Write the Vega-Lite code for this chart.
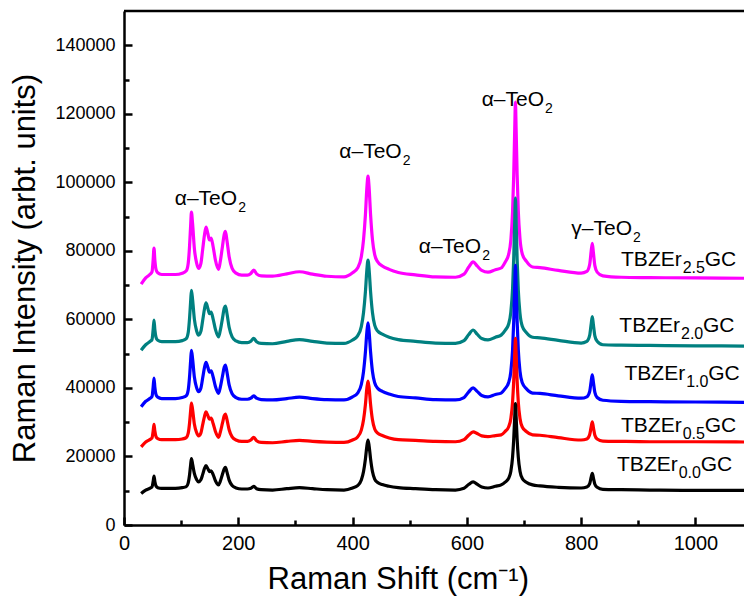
{
  "$schema": "https://vega.github.io/schema/vega-lite/v6.json",
  "width": 620,
  "height": 514,
  "autosize": {"type": "none"},
  "padding": {"left": 124, "top": 11, "right": 0, "bottom": 74},
  "background": "white",
  "config": {"view": {"stroke": null}, "font": "Liberation Sans"},
  "resolve": {"axis": {"x": "independent", "y": "independent"}},
  "datasets": {
    "spectra": [
      {"s":"2.5","x":30,"y":70300},{"s":"2.5","x":38,"y":72100},{"s":"2.5","x":45,"y":73100},{"s":"2.5","x":49,"y":73900},{"s":"2.5","x":51,"y":77300},{"s":"2.5","x":52.5,"y":80800},{"s":"2.5","x":54,"y":77300},{"s":"2.5","x":56,"y":74600},{"s":"2.5","x":59,"y":73600},{"s":"2.5","x":66,"y":73100},
      {"s":"2.5","x":90,"y":73100},{"s":"2.5","x":102,"y":73500},{"s":"2.5","x":109,"y":74200},{"s":"2.5","x":112.4,"y":76400},{"s":"2.5","x":114.7,"y":81300},{"s":"2.5","x":116.7,"y":87700},{"s":"2.5","x":118,"y":91300},{"s":"2.5","x":120,"y":88000},{"s":"2.5","x":123.2,"y":80600},{"s":"2.5","x":127,"y":76500},
      {"s":"2.5","x":130.5,"y":74900},{"s":"2.5","x":134.5,"y":76300},{"s":"2.5","x":137.6,"y":80300},{"s":"2.5","x":140.9,"y":84700},{"s":"2.5","x":143.5,"y":86900},{"s":"2.5","x":146.8,"y":85000},{"s":"2.5","x":149.5,"y":83200},{"s":"2.5","x":152.5,"y":83700},{"s":"2.5","x":156,"y":81200},{"s":"2.5","x":160,"y":77300},
      {"s":"2.5","x":165.5,"y":74600},{"s":"2.5","x":168.4,"y":76800},{"s":"2.5","x":172.3,"y":81300},{"s":"2.5","x":175.5,"y":84900},{"s":"2.5","x":177.5,"y":85700},{"s":"2.5","x":180.1,"y":83100},{"s":"2.5","x":184,"y":78300},{"s":"2.5","x":189.2,"y":74900},{"s":"2.5","x":196,"y":73500},{"s":"2.5","x":206,"y":72900},
      {"s":"2.5","x":216,"y":72900},{"s":"2.5","x":222,"y":73400},{"s":"2.5","x":227,"y":74400},{"s":"2.5","x":232,"y":73300},{"s":"2.5","x":240,"y":72700},{"s":"2.5","x":260,"y":72600},{"s":"2.5","x":285,"y":73300},{"s":"2.5","x":307,"y":73900},{"s":"2.5","x":330,"y":73200},{"s":"2.5","x":355,"y":72600},
      {"s":"2.5","x":385,"y":72400},{"s":"2.5","x":400,"y":73600},{"s":"2.5","x":408.8,"y":75000},{"s":"2.5","x":415.3,"y":78300},{"s":"2.5","x":419.2,"y":83300},{"s":"2.5","x":422.5,"y":90600},{"s":"2.5","x":425,"y":98300},{"s":"2.5","x":427,"y":101800},{"s":"2.5","x":429,"y":98300},{"s":"2.5","x":431.5,"y":90600},
      {"s":"2.5","x":434.8,"y":83300},{"s":"2.5","x":438.7,"y":78900},{"s":"2.5","x":443.9,"y":76800},{"s":"2.5","x":452,"y":75600},{"s":"2.5","x":464,"y":74600},{"s":"2.5","x":480,"y":73700},{"s":"2.5","x":510,"y":73000},{"s":"2.5","x":545,"y":72400},{"s":"2.5","x":580,"y":72300},{"s":"2.5","x":595,"y":73200},
      {"s":"2.5","x":603,"y":75200},{"s":"2.5","x":611,"y":76800},{"s":"2.5","x":618,"y":75600},{"s":"2.5","x":626,"y":74300},{"s":"2.5","x":637,"y":73800},{"s":"2.5","x":650,"y":74500},{"s":"2.5","x":660,"y":75000},{"s":"2.5","x":667,"y":76700},{"s":"2.5","x":673,"y":78900},{"s":"2.5","x":677,"y":83200},
      {"s":"2.5","x":680,"y":91500},{"s":"2.5","x":682,"y":102100},{"s":"2.5","x":683.8,"y":115700},{"s":"2.5","x":685,"y":123400},{"s":"2.5","x":686.2,"y":115700},{"s":"2.5","x":688,"y":102200},{"s":"2.5","x":690,"y":91700},{"s":"2.5","x":693,"y":83500},{"s":"2.5","x":697,"y":79100},{"s":"2.5","x":704,"y":77000},
      {"s":"2.5","x":715,"y":75300},{"s":"2.5","x":728,"y":75100},{"s":"2.5","x":760,"y":74300},{"s":"2.5","x":800,"y":73500},{"s":"2.5","x":810,"y":74000},{"s":"2.5","x":815,"y":76100},{"s":"2.5","x":817.5,"y":79800},{"s":"2.5","x":819.5,"y":82200},{"s":"2.5","x":821.5,"y":79400},{"s":"2.5","x":824,"y":75700},
      {"s":"2.5","x":828,"y":73800},{"s":"2.5","x":838,"y":72700},{"s":"2.5","x":870,"y":72300},{"s":"2.5","x":920,"y":72200},{"s":"2.5","x":1000,"y":72100},{"s":"2.5","x":1100,"y":72000},

      {"s":"2.0","x":30,"y":51000},{"s":"2.0","x":38,"y":52600},{"s":"2.0","x":45,"y":53500},{"s":"2.0","x":49,"y":54100},{"s":"2.0","x":51,"y":57000},{"s":"2.0","x":52.5,"y":59800},{"s":"2.0","x":54,"y":57000},{"s":"2.0","x":56,"y":54800},{"s":"2.0","x":59,"y":53900},{"s":"2.0","x":66,"y":53500},
      {"s":"2.0","x":90,"y":53500},{"s":"2.0","x":102,"y":53800},{"s":"2.0","x":109,"y":54400},{"s":"2.0","x":112.4,"y":56200},{"s":"2.0","x":114.7,"y":60300},{"s":"2.0","x":116.7,"y":65500},{"s":"2.0","x":118,"y":68500},{"s":"2.0","x":120,"y":65800},{"s":"2.0","x":123.2,"y":60000},{"s":"2.0","x":127,"y":56700},
      {"s":"2.0","x":130.5,"y":55400},{"s":"2.0","x":134.5,"y":56500},{"s":"2.0","x":137.6,"y":59600},{"s":"2.0","x":140.9,"y":63100},{"s":"2.0","x":143.5,"y":64800},{"s":"2.0","x":146.8,"y":63200},{"s":"2.0","x":149.5,"y":61700},{"s":"2.0","x":152.5,"y":62100},{"s":"2.0","x":156,"y":60100},{"s":"2.0","x":160,"y":57100},
      {"s":"2.0","x":165.5,"y":54900},{"s":"2.0","x":168.4,"y":56700},{"s":"2.0","x":172.3,"y":60300},{"s":"2.0","x":175.5,"y":63300},{"s":"2.0","x":177.5,"y":63900},{"s":"2.0","x":180.1,"y":61800},{"s":"2.0","x":184,"y":57700},{"s":"2.0","x":189.2,"y":54900},{"s":"2.0","x":196,"y":53700},{"s":"2.0","x":206,"y":53200},
      {"s":"2.0","x":216,"y":53200},{"s":"2.0","x":222,"y":53600},{"s":"2.0","x":227,"y":54500},{"s":"2.0","x":232,"y":53500},{"s":"2.0","x":240,"y":53000},{"s":"2.0","x":260,"y":52900},{"s":"2.0","x":285,"y":53600},{"s":"2.0","x":307,"y":54100},{"s":"2.0","x":330,"y":53600},{"s":"2.0","x":355,"y":53100},
      {"s":"2.0","x":385,"y":53000},{"s":"2.0","x":400,"y":54000},{"s":"2.0","x":408.8,"y":55200},{"s":"2.0","x":415.3,"y":57900},{"s":"2.0","x":419.2,"y":62000},{"s":"2.0","x":422.5,"y":68100},{"s":"2.0","x":425,"y":74400},{"s":"2.0","x":427,"y":77300},{"s":"2.0","x":429,"y":74400},{"s":"2.0","x":431.5,"y":68100},
      {"s":"2.0","x":434.8,"y":62000},{"s":"2.0","x":438.7,"y":58300},{"s":"2.0","x":443.9,"y":56600},{"s":"2.0","x":452,"y":55700},{"s":"2.0","x":464,"y":54800},{"s":"2.0","x":480,"y":54100},{"s":"2.0","x":510,"y":53600},{"s":"2.0","x":545,"y":53100},{"s":"2.0","x":580,"y":53000},{"s":"2.0","x":595,"y":53800},
      {"s":"2.0","x":603,"y":55500},{"s":"2.0","x":611,"y":56900},{"s":"2.0","x":618,"y":55700},{"s":"2.0","x":626,"y":54400},{"s":"2.0","x":637,"y":54000},{"s":"2.0","x":650,"y":54800},{"s":"2.0","x":660,"y":55400},{"s":"2.0","x":667,"y":56800},{"s":"2.0","x":673,"y":58600},{"s":"2.0","x":677,"y":62200},
      {"s":"2.0","x":680,"y":69000},{"s":"2.0","x":682,"y":77800},{"s":"2.0","x":683.8,"y":89000},{"s":"2.0","x":685,"y":95400},{"s":"2.0","x":686.2,"y":88900},{"s":"2.0","x":688,"y":77500},{"s":"2.0","x":690,"y":68600},{"s":"2.0","x":693,"y":61700},{"s":"2.0","x":697,"y":58000},{"s":"2.0","x":704,"y":56200},
      {"s":"2.0","x":715,"y":54800},{"s":"2.0","x":728,"y":54600},{"s":"2.0","x":760,"y":53900},{"s":"2.0","x":800,"y":53100},{"s":"2.0","x":810,"y":53600},{"s":"2.0","x":815,"y":55400},{"s":"2.0","x":817.5,"y":58600},{"s":"2.0","x":819.5,"y":60800},{"s":"2.0","x":821.5,"y":58400},{"s":"2.0","x":824,"y":55200},
      {"s":"2.0","x":828,"y":53600},{"s":"2.0","x":838,"y":52600},{"s":"2.0","x":870,"y":52500},{"s":"2.0","x":920,"y":52400},{"s":"2.0","x":1000,"y":52300},{"s":"2.0","x":1100,"y":52200},

      {"s":"1.0","x":30,"y":34500},{"s":"1.0","x":38,"y":36100},{"s":"1.0","x":45,"y":36900},{"s":"1.0","x":49,"y":37500},{"s":"1.0","x":51,"y":40200},{"s":"1.0","x":52.5,"y":42900},{"s":"1.0","x":54,"y":40200},{"s":"1.0","x":56,"y":38100},{"s":"1.0","x":59,"y":37300},{"s":"1.0","x":66,"y":36900},
      {"s":"1.0","x":90,"y":36900},{"s":"1.0","x":102,"y":37200},{"s":"1.0","x":109,"y":37700},{"s":"1.0","x":112.4,"y":39400},{"s":"1.0","x":114.7,"y":43200},{"s":"1.0","x":116.7,"y":48200},{"s":"1.0","x":118,"y":51000},{"s":"1.0","x":120,"y":48500},{"s":"1.0","x":123.2,"y":43100},{"s":"1.0","x":127,"y":40100},
      {"s":"1.0","x":130.5,"y":38900},{"s":"1.0","x":134.5,"y":39900},{"s":"1.0","x":137.6,"y":42800},{"s":"1.0","x":140.9,"y":46000},{"s":"1.0","x":143.5,"y":47500},{"s":"1.0","x":146.8,"y":46000},{"s":"1.0","x":149.5,"y":44600},{"s":"1.0","x":152.5,"y":45000},{"s":"1.0","x":156,"y":43200},{"s":"1.0","x":160,"y":40400},
      {"s":"1.0","x":165.5,"y":38400},{"s":"1.0","x":168.4,"y":40100},{"s":"1.0","x":172.3,"y":43400},{"s":"1.0","x":175.5,"y":46100},{"s":"1.0","x":177.5,"y":46700},{"s":"1.0","x":180.1,"y":44700},{"s":"1.0","x":184,"y":40900},{"s":"1.0","x":189.2,"y":38300},{"s":"1.0","x":196,"y":37200},{"s":"1.0","x":206,"y":36700},
      {"s":"1.0","x":216,"y":36700},{"s":"1.0","x":222,"y":37000},{"s":"1.0","x":227,"y":37700},{"s":"1.0","x":232,"y":37000},{"s":"1.0","x":240,"y":36600},{"s":"1.0","x":260,"y":36500},{"s":"1.0","x":285,"y":36900},{"s":"1.0","x":307,"y":37300},{"s":"1.0","x":330,"y":36900},{"s":"1.0","x":355,"y":36600},
      {"s":"1.0","x":385,"y":36500},{"s":"1.0","x":400,"y":37400},{"s":"1.0","x":408.8,"y":38500},{"s":"1.0","x":415.3,"y":41000},{"s":"1.0","x":419.2,"y":44800},{"s":"1.0","x":422.5,"y":50500},{"s":"1.0","x":425,"y":56300},{"s":"1.0","x":427,"y":59000},{"s":"1.0","x":429,"y":56300},{"s":"1.0","x":431.5,"y":50500},
      {"s":"1.0","x":434.8,"y":44800},{"s":"1.0","x":438.7,"y":41500},{"s":"1.0","x":443.9,"y":39900},{"s":"1.0","x":452,"y":39000},{"s":"1.0","x":464,"y":38200},{"s":"1.0","x":480,"y":37500},{"s":"1.0","x":510,"y":37100},{"s":"1.0","x":545,"y":36600},{"s":"1.0","x":580,"y":36500},{"s":"1.0","x":595,"y":37200},
      {"s":"1.0","x":603,"y":38800},{"s":"1.0","x":611,"y":40000},{"s":"1.0","x":618,"y":39000},{"s":"1.0","x":626,"y":37800},{"s":"1.0","x":637,"y":37400},{"s":"1.0","x":650,"y":38100},{"s":"1.0","x":660,"y":38500},{"s":"1.0","x":667,"y":39800},{"s":"1.0","x":673,"y":41500},{"s":"1.0","x":677,"y":44800},
      {"s":"1.0","x":680,"y":51200},{"s":"1.0","x":682,"y":59400},{"s":"1.0","x":683.8,"y":69800},{"s":"1.0","x":685,"y":75800},{"s":"1.0","x":686.2,"y":69800},{"s":"1.0","x":688,"y":59400},{"s":"1.0","x":690,"y":51200},{"s":"1.0","x":693,"y":44800},{"s":"1.0","x":697,"y":41500},{"s":"1.0","x":704,"y":39800},
      {"s":"1.0","x":715,"y":38500},{"s":"1.0","x":728,"y":38400},{"s":"1.0","x":760,"y":37700},{"s":"1.0","x":800,"y":37000},{"s":"1.0","x":810,"y":37400},{"s":"1.0","x":815,"y":39000},{"s":"1.0","x":817.5,"y":41900},{"s":"1.0","x":819.5,"y":43800},{"s":"1.0","x":821.5,"y":41600},{"s":"1.0","x":824,"y":38700},
      {"s":"1.0","x":828,"y":37200},{"s":"1.0","x":838,"y":36400},{"s":"1.0","x":870,"y":36100},{"s":"1.0","x":920,"y":36000},{"s":"1.0","x":1000,"y":35900},{"s":"1.0","x":1100,"y":35800},

      {"s":"0.5","x":30,"y":22800},{"s":"0.5","x":38,"y":24200},{"s":"0.5","x":45,"y":24900},{"s":"0.5","x":49,"y":25400},{"s":"0.5","x":51,"y":27400},{"s":"0.5","x":52.5,"y":29400},{"s":"0.5","x":54,"y":27400},{"s":"0.5","x":56,"y":25800},{"s":"0.5","x":59,"y":25200},{"s":"0.5","x":66,"y":24900},
      {"s":"0.5","x":90,"y":24900},{"s":"0.5","x":102,"y":25100},{"s":"0.5","x":109,"y":25500},{"s":"0.5","x":112.4,"y":26800},{"s":"0.5","x":114.7,"y":29700},{"s":"0.5","x":116.7,"y":33500},{"s":"0.5","x":118,"y":35600},{"s":"0.5","x":120,"y":33700},{"s":"0.5","x":123.2,"y":29400},{"s":"0.5","x":127,"y":27000},
      {"s":"0.5","x":130.5,"y":26000},{"s":"0.5","x":134.5,"y":26800},{"s":"0.5","x":137.6,"y":29200},{"s":"0.5","x":140.9,"y":31700},{"s":"0.5","x":143.5,"y":33000},{"s":"0.5","x":146.8,"y":31900},{"s":"0.5","x":149.5,"y":30900},{"s":"0.5","x":152.5,"y":31200},{"s":"0.5","x":156,"y":29600},{"s":"0.5","x":160,"y":27300},
      {"s":"0.5","x":165.5,"y":25600},{"s":"0.5","x":168.4,"y":27000},{"s":"0.5","x":172.3,"y":29700},{"s":"0.5","x":175.5,"y":31900},{"s":"0.5","x":177.5,"y":32400},{"s":"0.5","x":180.1,"y":30800},{"s":"0.5","x":184,"y":27800},{"s":"0.5","x":189.2,"y":25700},{"s":"0.5","x":196,"y":24800},{"s":"0.5","x":206,"y":24400},
      {"s":"0.5","x":216,"y":24400},{"s":"0.5","x":222,"y":24800},{"s":"0.5","x":227,"y":25600},{"s":"0.5","x":232,"y":24600},{"s":"0.5","x":240,"y":24100},{"s":"0.5","x":260,"y":24000},{"s":"0.5","x":285,"y":24400},{"s":"0.5","x":307,"y":24700},{"s":"0.5","x":330,"y":24400},{"s":"0.5","x":355,"y":24200},
      {"s":"0.5","x":385,"y":24100},{"s":"0.5","x":400,"y":24800},{"s":"0.5","x":408.8,"y":25700},{"s":"0.5","x":415.3,"y":27700},{"s":"0.5","x":419.2,"y":30700},{"s":"0.5","x":422.5,"y":35200},{"s":"0.5","x":425,"y":39900},{"s":"0.5","x":427,"y":42000},{"s":"0.5","x":429,"y":39900},{"s":"0.5","x":431.5,"y":35200},
      {"s":"0.5","x":434.8,"y":30700},{"s":"0.5","x":438.7,"y":28000},{"s":"0.5","x":443.9,"y":26800},{"s":"0.5","x":452,"y":26100},{"s":"0.5","x":464,"y":25400},{"s":"0.5","x":480,"y":24900},{"s":"0.5","x":510,"y":24700},{"s":"0.5","x":545,"y":24400},{"s":"0.5","x":580,"y":24300},{"s":"0.5","x":595,"y":24900},
      {"s":"0.5","x":603,"y":26200},{"s":"0.5","x":611,"y":27200},{"s":"0.5","x":618,"y":26700},{"s":"0.5","x":626,"y":26000},{"s":"0.5","x":637,"y":25800},{"s":"0.5","x":650,"y":26100},{"s":"0.5","x":660,"y":26300},{"s":"0.5","x":667,"y":27300},{"s":"0.5","x":673,"y":28600},{"s":"0.5","x":677,"y":31100},
      {"s":"0.5","x":680,"y":35900},{"s":"0.5","x":682,"y":42100},{"s":"0.5","x":683.8,"y":50000},{"s":"0.5","x":685,"y":54500},{"s":"0.5","x":686.2,"y":50000},{"s":"0.5","x":688,"y":42100},{"s":"0.5","x":690,"y":35900},{"s":"0.5","x":693,"y":31100},{"s":"0.5","x":697,"y":28600},{"s":"0.5","x":704,"y":27300},
      {"s":"0.5","x":715,"y":26300},{"s":"0.5","x":728,"y":26200},{"s":"0.5","x":760,"y":25500},{"s":"0.5","x":800,"y":24800},{"s":"0.5","x":810,"y":25100},{"s":"0.5","x":815,"y":26400},{"s":"0.5","x":817.5,"y":28600},{"s":"0.5","x":819.5,"y":30100},{"s":"0.5","x":821.5,"y":28400},{"s":"0.5","x":824,"y":26200},
      {"s":"0.5","x":828,"y":25100},{"s":"0.5","x":838,"y":24500},{"s":"0.5","x":870,"y":24400},{"s":"0.5","x":920,"y":24300},{"s":"0.5","x":1000,"y":24300},{"s":"0.5","x":1100,"y":24200},

      {"s":"0.0","x":30,"y":9200},{"s":"0.0","x":38,"y":10200},{"s":"0.0","x":45,"y":10700},{"s":"0.0","x":49,"y":11100},{"s":"0.0","x":51,"y":12700},{"s":"0.0","x":52.5,"y":14300},{"s":"0.0","x":54,"y":12700},{"s":"0.0","x":56,"y":11400},{"s":"0.0","x":59,"y":10900},{"s":"0.0","x":66,"y":10700},
      {"s":"0.0","x":90,"y":10700},{"s":"0.0","x":102,"y":10900},{"s":"0.0","x":109,"y":11200},{"s":"0.0","x":112.4,"y":12300},{"s":"0.0","x":114.7,"y":14600},{"s":"0.0","x":116.7,"y":17700},{"s":"0.0","x":118,"y":19400},{"s":"0.0","x":120,"y":17800},{"s":"0.0","x":123.2,"y":15000},{"s":"0.0","x":127,"y":13300},
      {"s":"0.0","x":130.5,"y":12600},{"s":"0.0","x":134.5,"y":13200},{"s":"0.0","x":137.6,"y":14700},{"s":"0.0","x":140.9,"y":16500},{"s":"0.0","x":143.5,"y":17300},{"s":"0.0","x":146.8,"y":16400},{"s":"0.0","x":149.5,"y":15600},{"s":"0.0","x":152.5,"y":15800},{"s":"0.0","x":156,"y":14700},{"s":"0.0","x":160,"y":12900},
      {"s":"0.0","x":165.5,"y":11700},{"s":"0.0","x":168.4,"y":12700},{"s":"0.0","x":172.3,"y":14800},{"s":"0.0","x":175.5,"y":16400},{"s":"0.0","x":177.5,"y":16800},{"s":"0.0","x":180.1,"y":15500},{"s":"0.0","x":184,"y":13100},{"s":"0.0","x":189.2,"y":11500},{"s":"0.0","x":196,"y":10800},{"s":"0.0","x":206,"y":10500},
      {"s":"0.0","x":216,"y":10500},{"s":"0.0","x":222,"y":10700},{"s":"0.0","x":227,"y":11300},{"s":"0.0","x":232,"y":10600},{"s":"0.0","x":240,"y":10300},{"s":"0.0","x":260,"y":10200},{"s":"0.0","x":285,"y":10600},{"s":"0.0","x":307,"y":10900},{"s":"0.0","x":330,"y":10600},{"s":"0.0","x":355,"y":10300},
      {"s":"0.0","x":385,"y":10200},{"s":"0.0","x":400,"y":10800},{"s":"0.0","x":408.8,"y":11500},{"s":"0.0","x":415.3,"y":13100},{"s":"0.0","x":419.2,"y":15600},{"s":"0.0","x":422.5,"y":19300},{"s":"0.0","x":425,"y":23000},{"s":"0.0","x":427,"y":24800},{"s":"0.0","x":429,"y":23000},{"s":"0.0","x":431.5,"y":19300},
      {"s":"0.0","x":434.8,"y":15600},{"s":"0.0","x":438.7,"y":13400},{"s":"0.0","x":443.9,"y":12400},{"s":"0.0","x":452,"y":11800},{"s":"0.0","x":464,"y":11300},{"s":"0.0","x":480,"y":10900},{"s":"0.0","x":510,"y":10600},{"s":"0.0","x":545,"y":10300},{"s":"0.0","x":580,"y":10200},{"s":"0.0","x":595,"y":10700},
      {"s":"0.0","x":603,"y":11800},{"s":"0.0","x":611,"y":12600},{"s":"0.0","x":618,"y":11900},{"s":"0.0","x":626,"y":11100},{"s":"0.0","x":637,"y":10800},{"s":"0.0","x":650,"y":11300},{"s":"0.0","x":660,"y":11700},{"s":"0.0","x":667,"y":12500},{"s":"0.0","x":673,"y":13600},{"s":"0.0","x":677,"y":15700},
      {"s":"0.0","x":680,"y":19800},{"s":"0.0","x":682,"y":25000},{"s":"0.0","x":683.8,"y":31600},{"s":"0.0","x":685,"y":35400},{"s":"0.0","x":686.2,"y":31600},{"s":"0.0","x":688,"y":25000},{"s":"0.0","x":690,"y":19800},{"s":"0.0","x":693,"y":15700},{"s":"0.0","x":697,"y":13600},{"s":"0.0","x":704,"y":12500},
      {"s":"0.0","x":715,"y":11700},{"s":"0.0","x":728,"y":11400},{"s":"0.0","x":760,"y":11000},{"s":"0.0","x":800,"y":10800},{"s":"0.0","x":810,"y":11100},{"s":"0.0","x":815,"y":12100},{"s":"0.0","x":817.5,"y":13900},{"s":"0.0","x":819.5,"y":15100},{"s":"0.0","x":821.5,"y":13700},{"s":"0.0","x":824,"y":11900},
      {"s":"0.0","x":828,"y":11000},{"s":"0.0","x":838,"y":10400},{"s":"0.0","x":870,"y":10300},{"s":"0.0","x":920,"y":10200},{"s":"0.0","x":1000,"y":10100},{"s":"0.0","x":1100,"y":10100}
    ],
    "bands": [
      {"main": "α–TeO", "sub": "2", "x": 198, "y": 93400},
      {"main": "α–TeO", "sub": "2", "x": 486, "y": 107100},
      {"main": "α–TeO", "sub": "2", "x": 625, "y": 79400},
      {"main": "α–TeO", "sub": "2", "x": 735, "y": 122300},
      {"main": "γ–TeO", "sub": "2", "x": 889, "y": 84600}
    ],
    "samples": [
      {"main": "TBZEr", "sub": "2.5", "tail": "GC", "x": 976, "y": 75600},
      {"main": "TBZEr", "sub": "2.0", "tail": "GC", "x": 973, "y": 56300},
      {"main": "TBZEr", "sub": "1.0", "tail": "GC", "x": 982, "y": 42300},
      {"main": "TBZEr", "sub": "0.5", "tail": "GC", "x": 976, "y": 27100},
      {"main": "TBZEr", "sub": "0.0", "tail": "GC", "x": 969, "y": 15800}
    ]
  },
  "layer": [
    {
      "data": {"name": "spectra"},
      "mark": {"type": "line", "interpolate": "monotone", "strokeWidth": 3.2, "clip": true},
      "encoding": {
        "x": {
          "field": "x", "type": "quantitative",
          "scale": {"domain": [0, 1085], "nice": false, "zero": false},
          "axis": {
            "orient": "bottom",
            "title": "Raman Shift (cm⁻¹)",
            "values": [0, 200, 400, 600, 800, 1000],
            "format": "d",
            "grid": false,
            "domainColor": "black", "domainWidth": 2.5,
            "tickColor": "black", "tickWidth": 2.5, "tickSize": -8,
            "labelFont": "Liberation Sans", "labelFontSize": 20, "labelColor": "black",
            "labelPadding": 16, "labelFlush": false, "labelOverlap": false,
            "titleFont": "Liberation Sans", "titleFontSize": 31, "titleFontWeight": "normal", "titleColor": "black",
            "titleX": 143, "titleY": 63, "titleAlign": "left", "titleBaseline": "alphabetic"
          }
        },
        "y": {
          "field": "y", "type": "quantitative",
          "scale": {"domain": [0, 150000], "nice": false},
          "axis": {
            "orient": "left",
            "title": "Raman Intensity (arbt. units)",
            "values": [0, 20000, 40000, 60000, 80000, 100000, 120000, 140000],
            "format": "d",
            "grid": false,
            "domainColor": "black", "domainWidth": 2.5,
            "tickColor": "black", "tickWidth": 2.5, "tickSize": -8,
            "labelFont": "Liberation Sans", "labelFontSize": 18, "labelColor": "black",
            "labelPadding": 17, "labelFlush": false, "labelOverlap": false,
            "titleFont": "Liberation Sans", "titleFontSize": 31, "titleFontWeight": "normal", "titleColor": "black",
            "titlePadding": 13
          }
        },
        "color": {
          "field": "s", "type": "nominal",
          "scale": {"domain": ["2.5", "2.0", "1.0", "0.5", "0.0"], "range": ["#FF00FF", "#008080", "#0000FF", "#FF0000", "#000000"]},
          "legend": null
        }
      }
    },
    {
      "data": {"values": [{}]},
      "mark": {"type": "rule", "color": "black", "strokeWidth": 2.5},
      "encoding": {"y": {"datum": 150000, "type": "quantitative", "axis": null}}
    },
    {
      "data": {"name": "bands"},
      "mark": {"type": "text", "align": "right", "baseline": "alphabetic", "fontSize": 21, "font": "Liberation Sans", "color": "black"},
      "encoding": {
        "x": {
          "field": "x", "type": "quantitative",
          "axis": {
            "orient": "bottom", "title": null, "labels": false, "domain": false, "grid": false,
            "values": [100, 300, 500, 700, 900],
            "tickColor": "black", "tickWidth": 2.5, "tickSize": -5
          }
        },
        "y": {
          "field": "y", "type": "quantitative",
          "axis": {
            "orient": "left", "title": null, "labels": false, "domain": false, "grid": false,
            "values": [10000, 30000, 50000, 70000, 90000, 110000, 130000],
            "tickColor": "black", "tickWidth": 2.5, "tickSize": -5
          }
        },
        "text": {"field": "main"}
      }
    },
    {
      "data": {"name": "bands"},
      "mark": {"type": "text", "align": "left", "baseline": "alphabetic", "dx": 1, "dy": 7, "fontSize": 14, "font": "Liberation Sans", "color": "black"},
      "encoding": {
        "x": {"field": "x", "type": "quantitative", "axis": null},
        "y": {"field": "y", "type": "quantitative", "axis": null},
        "text": {"field": "sub"}
      }
    },
    {
      "data": {"name": "samples"},
      "mark": {"type": "text", "align": "right", "baseline": "alphabetic", "fontSize": 21, "font": "Liberation Sans", "color": "black"},
      "encoding": {
        "x": {"field": "x", "type": "quantitative", "axis": null},
        "y": {"field": "y", "type": "quantitative", "axis": null},
        "text": {"field": "main"}
      }
    },
    {
      "data": {"name": "samples"},
      "mark": {"type": "text", "align": "left", "baseline": "alphabetic", "dx": 1, "dy": 7, "fontSize": 16, "font": "Liberation Sans", "color": "black"},
      "encoding": {
        "x": {"field": "x", "type": "quantitative", "axis": null},
        "y": {"field": "y", "type": "quantitative", "axis": null},
        "text": {"field": "sub"}
      }
    },
    {
      "data": {"name": "samples"},
      "mark": {"type": "text", "align": "left", "baseline": "alphabetic", "dx": 23, "fontSize": 21, "font": "Liberation Sans", "color": "black"},
      "encoding": {
        "x": {"field": "x", "type": "quantitative", "axis": null},
        "y": {"field": "y", "type": "quantitative", "axis": null},
        "text": {"field": "tail"}
      }
    }
  ]
}
